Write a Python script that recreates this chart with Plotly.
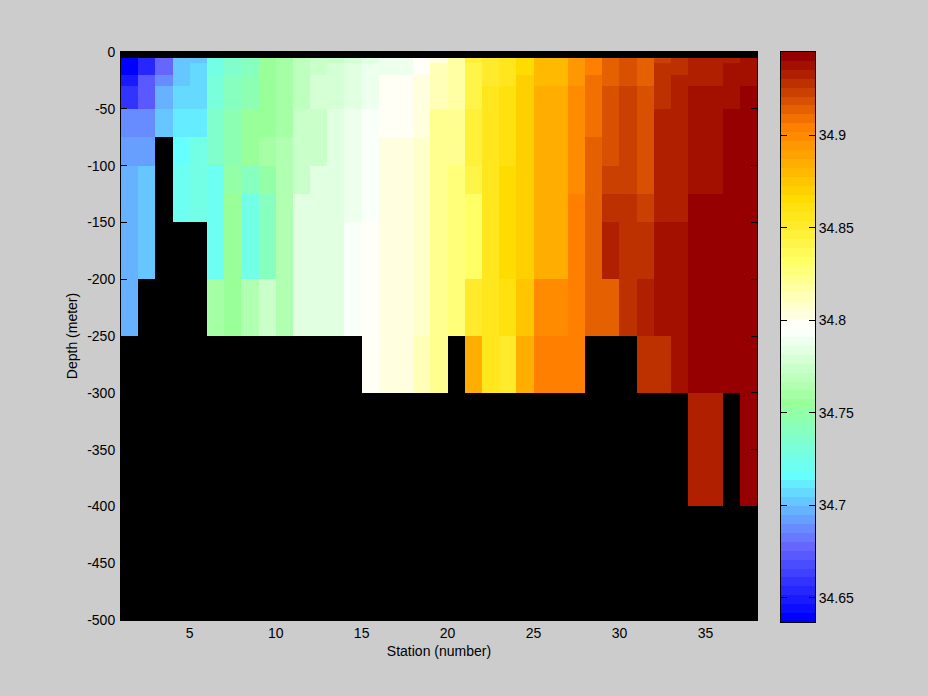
import numpy as np
import plotly.graph_objects as go

N = None
stations = list(range(1, 39))
depth_edges = [0, -5, -10, -20, -30, -50, -75, -100, -125, -150, -200, -250, -300, -400, -500]

d0   = [N] * 37
d5   = [34.639,34.654,34.678,34.702,34.702,34.726,34.736,34.740,34.755,34.760,34.769,34.774,34.774,34.779,34.784,34.789,34.789,34.798,34.803,34.817,34.846,34.851,34.856,34.866,34.880,34.880,34.894,34.904,34.914,34.918,34.914,34.923,34.928,34.933,34.933,34.933,34.938]
d10  = [34.639,34.654,34.678,34.702,34.707,34.726,34.736,34.740,34.755,34.760,34.769,34.774,34.779,34.784,34.789,34.789,34.789,34.798,34.813,34.817,34.842,34.851,34.856,34.866,34.880,34.880,34.894,34.904,34.914,34.918,34.914,34.928,34.928,34.933,34.933,34.938,34.938]
d20  = [34.649,34.673,34.688,34.702,34.707,34.731,34.740,34.745,34.755,34.760,34.769,34.779,34.779,34.784,34.789,34.798,34.798,34.803,34.813,34.817,34.842,34.851,34.856,34.870,34.880,34.880,34.894,34.909,34.914,34.918,34.914,34.928,34.933,34.933,34.933,34.938,34.938]
d30  = [34.659,34.673,34.697,34.707,34.707,34.731,34.740,34.745,34.755,34.760,34.769,34.779,34.779,34.784,34.789,34.798,34.798,34.803,34.813,34.817,34.842,34.856,34.861,34.870,34.885,34.885,34.899,34.909,34.918,34.923,34.918,34.928,34.933,34.938,34.938,34.938,34.943]
d50  = [34.688,34.688,34.702,34.712,34.712,34.736,34.745,34.755,34.755,34.760,34.774,34.774,34.784,34.789,34.793,34.798,34.798,34.803,34.822,34.822,34.846,34.856,34.861,34.870,34.885,34.885,34.899,34.909,34.918,34.923,34.918,34.933,34.933,34.938,34.938,34.943,34.943]
d75  = [34.692,34.692,N,34.716,34.726,34.736,34.745,34.755,34.760,34.765,34.774,34.774,34.784,34.789,34.793,34.803,34.803,34.808,34.822,34.822,34.846,34.856,34.861,34.870,34.885,34.885,34.899,34.914,34.918,34.923,34.918,34.933,34.933,34.938,34.938,34.943,34.943]
d100 = [34.697,34.702,N,34.721,34.726,34.721,34.750,34.740,34.750,34.765,34.774,34.784,34.784,34.789,34.793,34.803,34.803,34.808,34.822,34.827,34.842,34.856,34.866,34.870,34.885,34.885,34.899,34.914,34.923,34.923,34.918,34.933,34.933,34.938,34.938,34.943,34.943]
d125 = [34.697,34.702,N,34.721,34.726,34.721,34.755,34.726,34.740,34.765,34.784,34.784,34.784,34.789,34.793,34.803,34.803,34.808,34.822,34.827,34.832,34.856,34.866,34.870,34.885,34.885,34.904,34.914,34.928,34.928,34.923,34.933,34.933,34.943,34.943,34.943,34.943]
d150 = [34.697,34.702,N,N,N,34.721,34.755,34.726,34.740,34.765,34.784,34.784,34.784,34.793,34.798,34.803,34.803,34.808,34.822,34.827,34.832,34.856,34.866,34.870,34.885,34.885,34.904,34.914,34.933,34.928,34.928,34.938,34.938,34.943,34.943,34.943,34.943]
d200 = [34.697,N,N,N,N,34.760,34.755,34.765,34.774,34.765,34.784,34.784,34.784,34.793,34.798,34.803,34.803,34.808,34.822,34.827,34.851,34.856,34.861,34.875,34.899,34.899,34.904,34.914,34.914,34.928,34.933,34.938,34.938,34.943,34.943,34.943,34.943]
d250 = [N,N,N,N,N,N,N,N,N,N,N,N,N,N,34.798,34.803,34.803,34.813,34.822,N,34.885,34.856,34.851,34.885,34.904,34.904,34.904,N,N,N,34.928,34.928,34.938,34.943,34.943,34.943,34.943]
d300 = [N,N,N,N,N,N,N,N,N,N,N,N,N,N,N,N,N,N,N,N,N,N,N,N,N,N,N,N,N,N,N,N,N,34.933,34.933,N,34.943]
d400 = [N] * 37

salinity = [d0, d5, d10, d20, d30, d50, d75, d100, d125, d150, d200, d250, d300, d400]

sal_min, sal_max = 34.637, 34.945
n_levels = 64
anchor_level = [0, 8, 16, 24, 32.5, 40, 47, 55, 63]
anchor_rgb = [(0, 0, 255), (102, 102, 255), (102, 255, 255), (153, 255, 153), (255, 255, 255),
              (255, 255, 102), (255, 220, 0), (255, 128, 0), (150, 0, 0)]
x_ticks = [5, 10, 15, 20, 25, 30, 35]
y_ticks = [0, -50, -100, -150, -200, -250, -300, -350, -400, -450, -500]
y_labels = ["0", "-50", "-100", "-150", "-200", "-250", "-300", "-350", "-400", "-450", "-500"]
cb_ticks = [34.65, 34.7, 34.75, 34.8, 34.85, 34.9]
cb_labels = ["34.65", "34.7", "34.75", "34.8", "34.85", "34.9"]

W, H = 928, 696
BG = "rgb(204,204,204)"
FONT = dict(family="Liberation Sans, Arial, sans-serif", size=14, color="black")

levels = np.arange(n_levels)
rgb = np.stack([np.interp(levels, anchor_level, [c[i] for c in anchor_rgb]) for i in range(3)], axis=1).round().astype(int)
colorscale = []
for k, c in enumerate(rgb):
    col = f"rgb({c[0]},{c[1]},{c[2]})"
    colorscale.append([k / n_levels, col])
    colorscale.append([(k + 1) / n_levels, col])

fig = go.Figure()
fig.add_trace(go.Heatmap(x=stations, y=depth_edges, z=salinity, zmin=sal_min, zmax=sal_max,
                         colorscale=colorscale, showscale=False, hoverongaps=False,
                         xaxis="x", yaxis="y"))

bar_edges = np.linspace(sal_min, sal_max, n_levels + 1)
bar_z = ((bar_edges[:-1] + bar_edges[1:]) / 2).reshape(-1, 1).tolist()
fig.add_trace(go.Heatmap(x=[0, 1], y=bar_edges.tolist(), z=bar_z, zmin=sal_min, zmax=sal_max,
                         colorscale=colorscale, showscale=False,
                         xaxis="x2", yaxis="y2"))

axis_common = dict(showgrid=False, zeroline=False, showline=True, linecolor="black", linewidth=1,
                   mirror="allticks", ticks="inside", ticklen=6, tickcolor="black", tickwidth=1,
                   tickfont=FONT, automargin=False)
fig.update_layout(
    width=W, height=H, margin=dict(l=0, r=0, t=0, b=0, autoexpand=False),
    paper_bgcolor=BG, plot_bgcolor="black", showlegend=False, font=FONT,
    xaxis=dict(domain=[121 / W, 757 / W], range=[1, 38], tickmode="array", tickvals=x_ticks,
               title=dict(text="Station (number)", font=FONT, standoff=6), anchor="y", **axis_common),
    yaxis=dict(domain=[(H - 620) / H, (H - 52) / H], range=[-500, 0], tickmode="array", tickvals=y_ticks,
               ticktext=y_labels, ticklabelstandoff=2, title=dict(text="Depth (meter)", font=FONT, standoff=6),
               anchor="x", **axis_common),
    xaxis2=dict(domain=[781 / W, 815 / W], range=[0, 1], showticklabels=False, showgrid=False, zeroline=False,
                showline=True, linecolor="black", linewidth=1, mirror=True, ticks="", anchor="y2", automargin=False),
    yaxis2=dict(domain=[(H - 622) / H, (H - 52) / H], range=[sal_min, sal_max], side="right", tickmode="array",
                tickvals=cb_ticks, ticktext=cb_labels, anchor="x2", **axis_common),
)
fig.write_html("out.html", config=dict(displayModeBar=False),
               post_script="document.body.style.margin='0';document.body.style.background='rgb(204,204,204)';")
